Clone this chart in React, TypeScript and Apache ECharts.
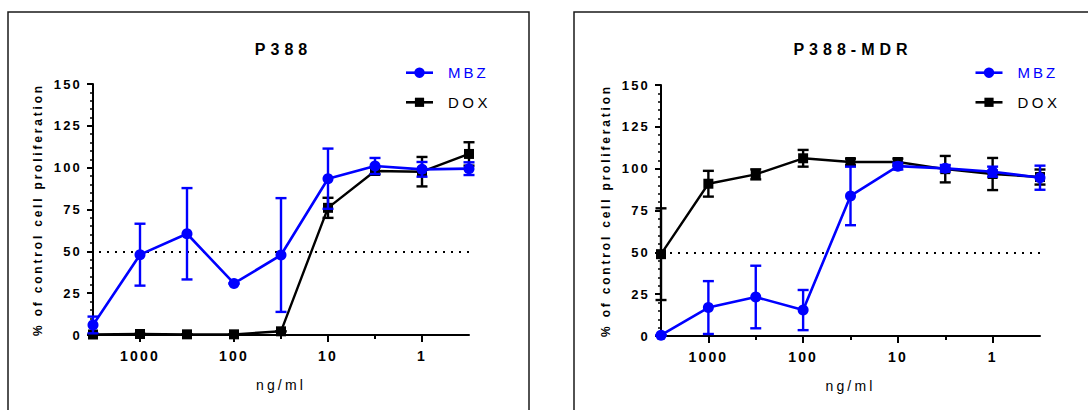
import React, { useEffect, useRef } from "react";
import * as echarts from "echarts";

// Half-log dilution series (ng/ml), highest dose first
const doses = [3162, 1000, 316.2, 100, 31.62, 10, 3.162, 1, 0.3162];
const majorTickDoses = [1000, 100, 10, 1];
const minorTickDoses = [316.2, 31.62, 3.162];

// P388 — mean % of control and error
const p388MbzMean = [6, 48, 60.5, 30.8, 47.8, 93.4, 101, 99, 99.4];
const p388MbzErr = [5, 18.5, 27.3, 0, 34, 18, 4.8, 4.4, 3.8];
const p388DoxMean = [0.3, 0.6, 0.4, 0.4, 2.2, 76, 98, 97.6, 108.2];
const p388DoxErr = [0, 0, 0, 0, 0, 6, 2, 8.8, 7];

// P388-MDR — mean % of control and error
const mdrMbzMean = [0.5, 17, 23.3, 15.5, 83.7, 101.5, 100.2, 98.2, 94.6];
const mdrMbzErr = [0, 15.8, 18.7, 12, 17.5, 2, 2, 3, 7.2];
const mdrDoxMean = [48.9, 91, 96.6, 106.2, 104, 104, 99.7, 96.8, 95];
const mdrDoxErr = [27.4, 7.7, 3, 5, 2, 2, 7.9, 9.6, 4.5];

const halfMaxLine = 50;

const FONT = '"Liberation Sans", Arial, sans-serif';
const BLUE = "#0000ff";
const BLACK = "#000000";
const Y_NAME = "% of control cell proliferation";
const X_NAME = "ng/ml";

// Extra tracking applied to the SVG text nodes after each render
const LETTER_SPACING: Record<string, number> = {
  P388: 5,
  "P388-MDR": 5,
  MBZ: 3,
  DOX: 3.5,
  [X_NAME]: 3.2,
  [Y_NAME]: 2.8,
};
const DIGIT_SPACING = 2.2;

type PanelLayout = {
  title: string;
  box: { x: number; y: number; width: number; height: number };
  grid: { left: number; top: number; width: number; height: number };
  legendX: number;
  mbzMean: number[];
  mbzErr: number[];
  doxMean: number[];
  doxErr: number[];
};

const panels: PanelLayout[] = [
  {
    title: "P388",
    box: { x: 8, y: 12, width: 521, height: 430 },
    grid: { left: 93, top: 84, width: 376, height: 251 },
    legendX: 406,
    mbzMean: p388MbzMean,
    mbzErr: p388MbzErr,
    doxMean: p388DoxMean,
    doxErr: p388DoxErr,
  },
  {
    title: "P388-MDR",
    box: { x: 574, y: 12, width: 540, height: 430 },
    grid: { left: 661, top: 85, width: 379, height: 251 },
    legendX: 975.5,
    mbzMean: mdrMbzMean,
    mbzErr: mdrMbzErr,
    doxMean: mdrDoxMean,
    doxErr: mdrDoxErr,
  },
];

const log10 = (v: number) => Math.log10(v);

function errorBars(color: string) {
  return (_params: any, api: any) => {
    const x = api.value(0);
    const m = api.value(1);
    const e = api.value(2);
    const top = api.coord([x, m + e]);
    const bot = api.coord([x, m - e]);
    const hw = 5.5;
    const style = { stroke: color, lineWidth: 2.4 };
    return {
      type: "group",
      children: [
        { type: "line", shape: { x1: top[0], y1: top[1], x2: bot[0], y2: bot[1] }, style },
        { type: "line", shape: { x1: top[0] - hw, y1: top[1], x2: top[0] + hw, y2: top[1] }, style },
        { type: "line", shape: { x1: bot[0] - hw, y1: bot[1], x2: bot[0] + hw, y2: bot[1] }, style },
      ],
    };
  };
}

function buildOption() {
  const grid: any[] = [];
  const xAxis: any[] = [];
  const yAxis: any[] = [];
  const series: any[] = [];
  const graphic: any[] = [];

  panels.forEach((p, i) => {
    grid.push({ ...p.grid, containLabel: false });

    xAxis.push({
      gridIndex: i,
      type: "value",
      min: -0.5,
      max: 3.5,
      inverse: true,
      position: "bottom",
      axisLine: { show: true, onZero: false, lineStyle: { color: BLACK, width: 2 } },
      axisTick: {
        show: true,
        customValues: majorTickDoses.map(log10),
        length: 7,
        lineStyle: { color: BLACK, width: 2 },
      },
      axisLabel: {
        customValues: majorTickDoses.map(log10),
        formatter: (v: number) => String(Math.round(Math.pow(10, v))),
        fontFamily: FONT,
        fontSize: 14,
        fontWeight: "bold",
        color: BLACK,
        margin: 14,
      },
      splitLine: { show: false },
      name: X_NAME,
      nameLocation: "middle",
      nameGap: 43,
      nameTextStyle: { fontFamily: FONT, fontSize: 14, color: BLACK },
    });
    // Half-decade ticks
    xAxis.push({
      gridIndex: i,
      type: "value",
      min: -0.5,
      max: 3.5,
      inverse: true,
      position: "bottom",
      offset: 0,
      axisLine: { show: false, onZero: false },
      axisTick: {
        show: true,
        customValues: minorTickDoses.map(log10),
        length: 4,
        lineStyle: { color: BLACK, width: 2 },
      },
      axisLabel: { show: false },
      splitLine: { show: false },
    });

    yAxis.push({
      gridIndex: i,
      type: "value",
      min: 0,
      max: 150,
      interval: 25,
      axisLine: { show: true, onZero: false, lineStyle: { color: BLACK, width: 2 } },
      axisTick: { show: true, length: 6, lineStyle: { color: BLACK, width: 2 } },
      minorTick: { show: true, splitNumber: 5, length: 3, lineStyle: { color: BLACK, width: 1.5 } },
      axisLabel: {
        fontFamily: FONT,
        fontSize: 13,
        fontWeight: "bold",
        color: BLACK,
        margin: 11,
      },
      splitLine: { show: false },
      minorSplitLine: { show: false },
      name: Y_NAME,
      nameLocation: "middle",
      nameGap: 49,
      nameTextStyle: { fontFamily: FONT, fontSize: 12, fontWeight: "bold", color: BLACK },
    });

    const xi = i * 2;
    series.push({
      type: "custom",
      name: "DOX",
      xAxisIndex: xi,
      yAxisIndex: i,
      renderItem: errorBars(BLACK),
      encode: { x: 0, y: 1 },
      data: doses.map((d, k) => [log10(d), p.doxMean[k], p.doxErr[k]]),
      silent: true,
      z: 3,
    });
    series.push({
      type: "line",
      name: "DOX",
      xAxisIndex: xi,
      yAxisIndex: i,
      data: doses.map((d, k) => [log10(d), p.doxMean[k]]),
      symbol: "rect",
      symbolSize: 10,
      showAllSymbol: true,
      itemStyle: { color: BLACK },
      lineStyle: { color: BLACK, width: 2.4 },
      silent: true,
      z: 4,
      markLine: {
        silent: true,
        symbol: "none",
        label: { show: false },
        lineStyle: { type: [2, 6], width: 2, color: BLACK },
        data: [{ yAxis: halfMaxLine }],
        animation: false,
      },
    });
    series.push({
      type: "custom",
      name: "MBZ",
      xAxisIndex: xi,
      yAxisIndex: i,
      renderItem: errorBars(BLUE),
      encode: { x: 0, y: 1 },
      data: doses.map((d, k) => [log10(d), p.mbzMean[k], p.mbzErr[k]]),
      silent: true,
      z: 5,
    });
    series.push({
      type: "line",
      name: "MBZ",
      xAxisIndex: xi,
      yAxisIndex: i,
      data: doses.map((d, k) => [log10(d), p.mbzMean[k]]),
      symbol: "circle",
      symbolSize: 11,
      showAllSymbol: true,
      itemStyle: { color: BLUE },
      lineStyle: { color: BLUE, width: 2.6 },
      silent: true,
      z: 6,
    });

    // Panel frame
    graphic.push({
      type: "rect",
      silent: true,
      shape: { ...p.box },
      style: { fill: "none", stroke: "#1a1a1a", lineWidth: 1.5 },
    });
    // Panel title
    const cx = p.grid.left + p.grid.width / 2 + LETTER_SPACING[p.title] / 2;
    graphic.push({
      type: "text",
      silent: true,
      x: cx,
      y: 49,
      style: {
        text: p.title,
        fontFamily: FONT,
        fontSize: 16,
        fontWeight: "bold",
        fill: BLACK,
        align: "center",
        verticalAlign: "middle",
        textAlign: "center",
        textVerticalAlign: "middle",
      },
    });
    // Legend
    const lx = p.legendX;
    const legendRows = [
      { name: "MBZ", color: BLUE, y: 72.7, marker: "circle" },
      { name: "DOX", color: BLACK, y: 102.3, marker: "rect" },
    ];
    legendRows.forEach((r) => {
      graphic.push({
        type: "line",
        silent: true,
        shape: { x1: lx, y1: r.y, x2: lx + 27, y2: r.y },
        style: { stroke: r.color, lineWidth: 2.6 },
      });
      if (r.marker === "circle") {
        graphic.push({
          type: "circle",
          silent: true,
          shape: { cx: lx + 13.5, cy: r.y, r: 5.2 },
          style: { fill: r.color },
        });
      } else {
        graphic.push({
          type: "rect",
          silent: true,
          shape: { x: lx + 13.5 - 4.6, y: r.y - 4.6, width: 9.2, height: 9.2 },
          style: { fill: r.color },
        });
      }
      graphic.push({
        type: "text",
        silent: true,
        x: lx + 42,
        y: r.y,
        style: {
          text: r.name,
          fontFamily: FONT,
          fontSize: 15,
          fill: r.color,
          align: "left",
          verticalAlign: "middle",
          textAlign: "left",
          textVerticalAlign: "middle",
        },
      });
    });
  });

  return {
    animation: false,
    backgroundColor: "#ffffff",
    grid,
    xAxis,
    yAxis,
    series,
    graphic: { elements: graphic },
  };
}

function applyLetterSpacing(root: HTMLElement) {
  root.querySelectorAll("text").forEach((t) => {
    const s = (t.textContent || "").trim();
    let ls: number | undefined = LETTER_SPACING[s];
    if (ls === undefined && /^\d+$/.test(s)) ls = DIGIT_SPACING;
    if (ls !== undefined) t.setAttribute("letter-spacing", String(ls));
  });
}

export default function App() {
  const ref = useRef<HTMLDivElement>(null);

  useEffect(() => {
    const el = ref.current;
    if (!el) return;
    const chart = echarts.init(el, undefined, { renderer: "svg" });
    const onRendered = () => applyLetterSpacing(el);
    chart.on("rendered", onRendered);
    chart.on("finished", onRendered);
    chart.setOption(buildOption() as any);
    applyLetterSpacing(el);
    const timer = window.setTimeout(onRendered, 50);
    return () => {
      window.clearTimeout(timer);
      chart.dispose();
    };
  }, []);

  return (
    <div
      ref={ref}
      style={{ position: "fixed", left: 0, top: 0, width: 1088, height: 410, background: "#fff" }}
    />
  );
}
